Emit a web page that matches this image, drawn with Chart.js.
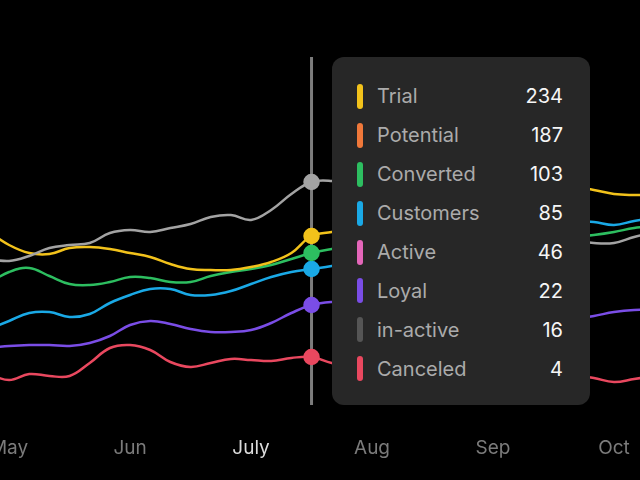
<!DOCTYPE html>
<html>
<head>
<meta charset="utf-8">
<script src="https://cdn.jsdelivr.net/npm/chart.js"></script>
<style>
  html, body { margin: 0; padding: 0; background: #000; }
  #wrap { position: relative; width: 640px; height: 480px; overflow: hidden; }
  #tip {
    position: absolute; left: 332px; top: 57px; width: 258px; height: 348px;
    box-sizing: border-box; background: #272727; border-radius: 12px;
    padding: 20px 27px 18px 25px; font-family: Inter, "Noto Sans", sans-serif;
  }
  .row { display: flex; align-items: center; height: 38.9px; }
  .bar { width: 6px; height: 25px; border-radius: 3px; margin-right: 14px; }
  .lbl { flex: 1; color: #ababab; font-size: 20px; }
  .val { color: #f6f6f6; font-size: 20px; }
</style>
</head>
<body>
<div id="wrap">
  <canvas id="funnelChart" width="640" height="480"></canvas>
  <div id="tip"></div>
</div>
<script>
// bulan di sumbu x
const months = ["May", "Jun", "July", "Aug", "Sep", "Oct"];
const hoverMonth = 2.5; // pertengahan July - Aug
const hoverIndex = 16;

// titik tiap 1/6 bulan, mulai sedikit sebelum May
const steps = Array.from({ length: 34 }, (_, i) => (i - 1) / 6);

const trialLine = [94, 87.5, 83.5, 83, 86, 86.5, 85.5, 83.5, 81.5, 78, 75.5, 75, 75, 76.5, 79, 83.5, 92, 94, 96, 99, 102.5, 106, 109, 111, 112.5, 114, 115, 116, 116.5, 116.5, 115, 113, 112.5, 112.5];
const inactiveLine = [80.5, 79.5, 82, 86, 87.5, 88.5, 93.5, 95, 94, 96, 98, 101.5, 102.5, 100, 105, 113, 119, 119.5, 117.5, 112.5, 107.5, 105, 102.5, 101, 99, 97.5, 96, 94, 92, 90, 88.5, 88.5, 91.5, 94];
const convertedLine = [68.5, 74, 76, 72, 68, 67.5, 69, 71.5, 71, 69, 69, 72, 74, 75.5, 77.5, 80.5, 83.5, 85.5, 87, 88, 89, 90, 90.5, 91, 91, 91, 91, 91, 91, 91.5, 92.5, 94, 96, 97];
const customersLine = [45.5, 49.5, 53.5, 54, 51.5, 53, 58.5, 62.5, 65.5, 65.5, 62.5, 62.5, 64.5, 68, 71.5, 74, 75.5, 77, 79, 81.5, 84, 86.5, 89, 91, 93, 95, 96.5, 98, 99, 99.5, 99, 97.5, 99.5, 101];
const loyalLine = [36, 37, 37.5, 37.5, 37, 38.5, 42, 47.5, 49.5, 48, 45.5, 44, 44, 45, 48.5, 53.5, 57.5, 59, 59, 58, 56.5, 54.5, 53, 52, 51, 50.5, 50, 50, 50, 50.5, 52, 54, 55, 55];
const canceledLine = [23, 20, 23, 22, 22, 28.5, 36, 37.5, 35, 29, 26.5, 28.5, 30.5, 30, 29.5, 31, 31.5, 28.5, 27, 27, 28, 29, 29, 28, 26.5, 25, 24, 23.5, 23, 22.5, 21, 19, 20.5, 22];

// isi tooltip
const tipLabels = ["Trial", "Potential", "Converted", "Customers", "Active", "Loyal", "in-active", "Canceled"];
const tipValues = [234, 187, 103, 85, 46, 22, 16, 4];
const tipColors = ["#f2c21b", "#f0783a", "#2dbe60", "#1aa9e6", "#e466b9", "#7a4de6", "#555555", "#e9485f"];

const tip = document.getElementById("tip");
tipLabels.forEach((label, i) => {
  const row = document.createElement("div");
  row.className = "row";
  row.innerHTML = `<span class="bar" style="background:${tipColors[i]}"></span>` +
    `<span class="lbl">${label}</span><span class="val">${tipValues[i]}</span>`;
  tip.appendChild(row);
});

function toPoints(values) {
  return values.map((v, i) => ({ x: steps[i], y: v }));
}

function makeSet(label, values, color) {
  return {
    label: label,
    data: toPoints(values),
    borderColor: color,
    backgroundColor: color,
    pointBackgroundColor: color,
  };
}

// garis vertikal penanda hover
const hoverLine = {
  id: "hoverLine",
  beforeDatasetsDraw(chart) {
    const ctx = chart.ctx;
    const x = chart.scales.x.getPixelForValue(hoverMonth);
    ctx.save();
    ctx.strokeStyle = "#7c7c7c";
    ctx.lineWidth = 3;
    ctx.beginPath();
    ctx.moveTo(x, tip.offsetTop);
    ctx.lineTo(x, tip.offsetTop + tip.offsetHeight);
    ctx.stroke();
    ctx.restore();
  },
};

const ctx = document.getElementById("funnelChart").getContext("2d");
const myChart = new Chart(ctx, {
  type: "line",
  data: {
    datasets: [
      makeSet("in-active", inactiveLine, "#a3a3a3"),
      makeSet("Trial", trialLine, "#f2c21b"),
      makeSet("Converted", convertedLine, "#2dbe60"),
      makeSet("Customers", customersLine, "#1aa9e6"),
      makeSet("Loyal", loyalLine, "#7a4de6"),
      makeSet("Canceled", canceledLine, "#e9485f"),
    ],
  },
  options: {
    responsive: false,
    animation: false,
    layout: { padding: 0 },
    elements: {
      line: { borderWidth: 2.5, tension: 0.4 },
      point: {
        radius: (c) => (c.dataIndex === hoverIndex ? 7 : 0),
        borderWidth: 2.5,
        borderColor: "#242424",
        hoverRadius: 0,
      },
    },
    plugins: {
      legend: { display: false },
      tooltip: { enabled: false },
    },
    scales: {
      x: {
        type: "linear",
        min: -0.075,
        max: 5.215,
        grid: { display: false },
        border: { display: false },
        ticks: {
          stepSize: 1,
          includeBounds: false,
          autoSkip: false,
          maxRotation: 0,
          padding: 9,
          font: { family: "Inter", size: 19 },
          color: (c) => (c.tick.value === 2 ? "#dcdcdc" : "#7b7b7b"),
          callback: (v) => months[v],
        },
        afterFit(scale) {
          scale.height = 60;
          scale.paddingLeft = 0;
          scale.paddingRight = 0;
        },
      },
      y: { display: false, min: 0, max: 210 },
    },
  },
  plugins: [hoverLine],
});
</script>
</body>
</html>
